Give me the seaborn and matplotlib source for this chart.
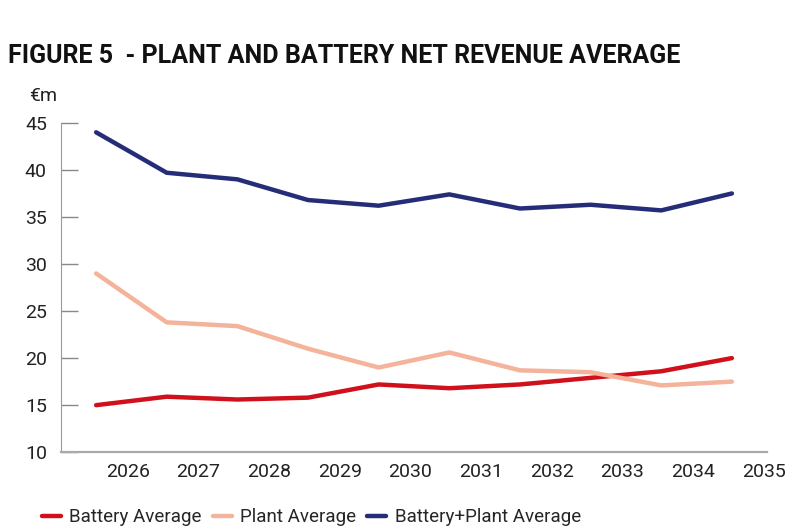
import numpy as np
import pandas as pd
import matplotlib
matplotlib.use("Agg")
import matplotlib.pyplot as plt
import seaborn as sns

# Data (€m)
YEARS = [2026, 2027, 2028, 2029, 2030, 2031, 2032, 2033, 2034, 2035]
BATTERY = [15.0, 15.9, 15.6, 15.8, 17.2, 16.8, 17.2, 17.9, 18.6, 20.0]
PLANT = [29.0, 23.8, 23.4, 21.0, 19.0, 20.6, 18.7, 18.5, 17.1, 17.5]
COMBINED = [44.0, 39.7, 39.0, 36.8, 36.2, 37.4, 35.9, 36.3, 35.7, 37.5]

SERIES = ["Battery Average", "Plant Average", "Battery+Plant Average"]
COLORS = ["#d0111b", "#f4b39b", "#262d78"]

df = pd.DataFrame({
    "pos": list(range(len(YEARS))) * 3,
    "value": BATTERY + PLANT + COMBINED,
    "series": np.repeat(SERIES, len(YEARS)),
})

sns.set_style("white")
plt.rcParams["font.family"] = ["Liberation Sans Narrow", "Roboto", "DejaVu Sans"]

fig = plt.figure(figsize=(8, 5.32), dpi=100)
ax = fig.add_axes([0.076, 0.150, 0.883, 0.619])

sns.lineplot(data=df, x="pos", y="value", hue="series", hue_order=SERIES,
             palette=COLORS, linewidth=3.2, ax=ax, legend=False)

ax.set_xlim(-0.5, 9.5)
ax.set_ylim(10, 45)
ax.set_yticks(range(10, 46, 5))
ax.set_xticks(np.arange(len(YEARS)) + 0.45)
ax.set_xticklabels([str(y) for y in YEARS])
ax.tick_params(axis="x", length=0, labelsize=14, pad=8, colors="#222222")
ax.tick_params(axis="y", direction="in", length=12, width=1, color="#888888",
               labelsize=14, pad=10, labelcolor="#222222", left=True)
ax.set_xlabel("")
ax.set_ylabel("")
for side in ["top", "right"]:
    ax.spines[side].set_visible(False)
ax.spines["left"].set_color("#999999")
ax.spines["bottom"].set_color("#aaaaaa")
ax.spines["bottom"].set_linewidth(1.6)

fig.text(0.01, 0.895, "FIGURE 5  - PLANT AND BATTERY NET REVENUE AVERAGE",
         fontsize=18, fontweight="bold", color="#111111", va="center")
fig.text(0.036, 0.82, "€m", fontsize=14, color="#222222", va="center")

handles = [plt.Line2D([0], [0], color=c, linewidth=3.2) for c in COLORS]
fig.legend(handles, SERIES, loc="center left", bbox_to_anchor=(0.05, 0.028),
           ncol=3, frameon=False, fontsize=13.5, handlelength=1.0,
           handletextpad=0.45, columnspacing=0.6, borderpad=0.1,
           borderaxespad=0.0)

fig.savefig("out.png", dpi=100)
